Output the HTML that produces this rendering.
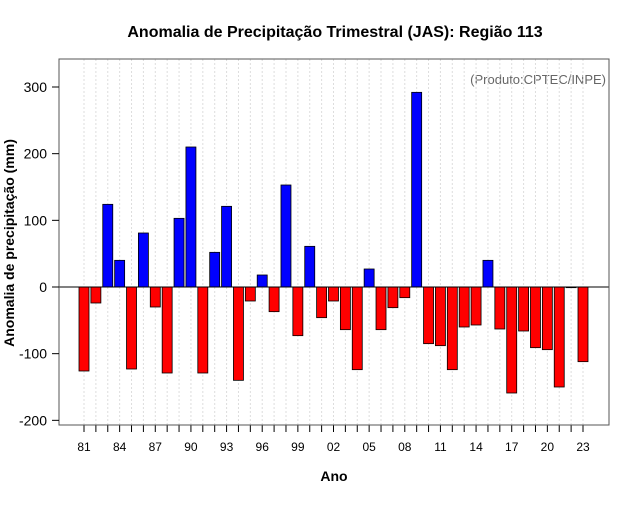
<!DOCTYPE html>
<html><head><meta charset="utf-8"><style>
body{margin:0;background:#fff;}
svg text{font-family:"Liberation Sans",sans-serif;}
</style></head><body>
<svg id="chart" width="640" height="500" xmlns="http://www.w3.org/2000/svg">
<rect width="640" height="500" fill="#fff"/>
<text x="335" y="37" text-anchor="middle" font-size="16" font-weight="bold">Anomalia de Precipitação Trimestral (JAS): Região 113</text>
<text x="606" y="84" text-anchor="end" font-size="13" fill="#666">(Produto:CPTEC/INPE)</text>
<text x="334" y="481" text-anchor="middle" font-size="14" font-weight="bold">Ano</text>
<text transform="translate(14,243) rotate(-90)" text-anchor="middle" font-size="14" font-weight="bold">Anomalia de precipitação (mm)</text>
<g id="grid"></g><g id="bars"></g><g id="axes"></g>
</svg>
<script>
const years=[81,82,83,84,85,86,87,88,89,90,91,92,93,94,95,96,97,98,99,0,1,2,3,4,5,6,7,8,9,10,11,12,13,14,15,16,17,18,19,20,21,22,23];
const values=[-126,-24,124,40,-123,81,-30,-129,103,210,-129,52,121,-140,-21,18,-37,153,-73,61,-46,-21,-64,-124,27,-64,-31,-16,292,-85,-88,-124,-60,-57,40,-63,-159,-66,-91,-94,-150,-1,-112];
const yTicks=[-200,-100,0,100,200,300];
const NS="http://www.w3.org/2000/svg";
const L=59,R=609,T=59,B=425;
const xs=i=>84+i*(583-84)/42;
const ys=v=>287-v*(200/300);
function mk(p,t,a){const e=document.createElementNS(NS,t);for(const k in a)e.setAttribute(k,a[k]);p.appendChild(e);return e;}
const g=document.getElementById('grid'),b=document.getElementById('bars'),ax=document.getElementById('axes');
years.forEach((y,i)=>{
 const gl=mk(g,'line',{x1:xs(i),x2:xs(i),y1:T,y2:B,stroke:'#ddd','stroke-dasharray':'2,2'});
 
 
 const v=values[i];
 const r=mk(b,'rect',{x:xs(i)-5,y:Math.min(ys(v),ys(0)),width:10,height:Math.abs(ys(v)-ys(0)),fill:v>=0?'#0000ff':'#ff0000',stroke:'#000','stroke-width':0.8});
 
 
 const tk=mk(ax,'line',{x1:xs(i),x2:xs(i),y1:B,y2:B+7,stroke:'#000'});
 
 
 if(i%3===0){const t=mk(ax,'text',{x:xs(i),y:451,'text-anchor':'middle','font-size':12});t.textContent=String(y).padStart(2,'0');
 
 }
});
const z=mk(ax,'line',{x1:L,x2:R,y1:ys(0),y2:ys(0),stroke:'#000'});


const fr=mk(ax,'rect',{x:L,y:T,width:R-L,height:B-T,fill:'none',stroke:'#555'});


yTicks.forEach(v=>{
 const tk=mk(ax,'line',{x1:L-7,x2:L,y1:ys(v),y2:ys(v),stroke:'#000'});
 
 
 const t=mk(ax,'text',{x:L-12,y:ys(v)+5,'text-anchor':'end','font-size':14});t.textContent=v;
 
 
});
</script>
</body></html>
